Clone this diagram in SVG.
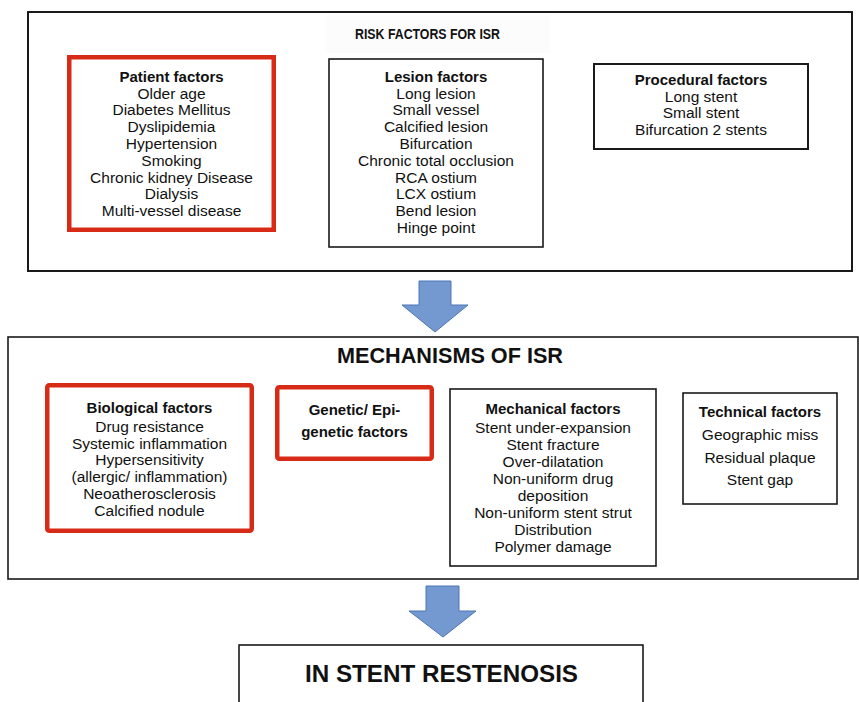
<svg xmlns="http://www.w3.org/2000/svg" width="859" height="702" viewBox="0 0 859 702">
  <style>
    text { font-family: "Liberation Sans", Arial, sans-serif; fill: #111; text-anchor: middle; }
    .b { font-weight: bold; font-size: 15px; }
    .r { font-size: 15.5px; }
    .t1 { font-size: 14px; }
    .t2 { font-size: 22px; }
    .t3 { font-size: 24px; }
    .box { fill: #fff; stroke: #1a1a1a; stroke-width: 1.6; }
    .outer { fill: #fff; stroke: #1a1a1a; stroke-width: 2; }
    .red { fill: #fff; stroke: #d72b17; stroke-width: 4.5; }
    .arrow { fill: #7399d0; stroke: #4d76b4; stroke-width: 1; stroke-linejoin: miter; }
  </style>
  <rect width="859" height="702" fill="#fff"/>

  <g id="risk-factors">
    <rect class="outer" x="28" y="12" width="824" height="259"/>
    <rect x="326" y="15" width="224" height="38" fill="#fcfcfc"/>
    <text class="b t1" x="427.5" y="39" textLength="145" lengthAdjust="spacingAndGlyphs">RISK FACTORS FOR ISR</text>
  </g>

  <g id="patient-factors">
    <rect class="red" x="69.25" y="57.25" width="204.5" height="172.5"/>
    <text class="b" x="171.5" y="81.7">Patient factors</text>
    <text class="r" x="171.5" y="98.5">Older age</text>
    <text class="r" x="171.5" y="115.3">Diabetes Mellitus</text>
    <text class="r" x="171.5" y="132.1">Dyslipidemia</text>
    <text class="r" x="171.5" y="148.9">Hypertension</text>
    <text class="r" x="171.5" y="165.7">Smoking</text>
    <text class="r" x="171.5" y="182.5">Chronic kidney Disease</text>
    <text class="r" x="171.5" y="199.3">Dialysis</text>
    <text class="r" x="171.5" y="216.1">Multi-vessel disease</text>
  </g>

  <g id="lesion-factors">
    <rect class="box" x="329" y="59" width="214" height="188"/>
    <text class="b" x="436" y="81.7">Lesion factors</text>
    <text class="r" x="436" y="98.5">Long lesion</text>
    <text class="r" x="436" y="115.3">Small vessel</text>
    <text class="r" x="436" y="132.1">Calcified lesion</text>
    <text class="r" x="436" y="148.9">Bifurcation</text>
    <text class="r" x="436" y="165.7">Chronic total occlusion</text>
    <text class="r" x="436" y="182.5">RCA ostium</text>
    <text class="r" x="436" y="199.3">LCX ostium</text>
    <text class="r" x="436" y="216.1">Bend lesion</text>
    <text class="r" x="436" y="232.9">Hinge point</text>
  </g>

  <g id="procedural-factors">
    <rect class="box" x="594" y="64" width="214" height="85" style="stroke-width:2"/>
    <text class="b" x="701" y="85">Procedural factors</text>
    <text class="r" x="701" y="101.7">Long stent</text>
    <text class="r" x="701" y="118.4">Small stent</text>
    <text class="r" x="701" y="135.1">Bifurcation 2 stents</text>
  </g>

  <g id="mechanisms">
    <rect class="outer" x="8" y="337" width="850" height="242" style="stroke-width:1.6"/>
    <text class="b t2" x="450" y="363" textLength="226" lengthAdjust="spacingAndGlyphs">MECHANISMS OF ISR</text>
  </g>

  <g id="biological-factors">
    <rect class="red" x="47.25" y="385.25" width="204.5" height="145.5" rx="2"/>
    <text class="b" x="149.5" y="412.7">Biological factors</text>
    <text class="r" x="149.5" y="431.7">Drug resistance</text>
    <text class="r" x="149.5" y="448.5">Systemic inflammation</text>
    <text class="r" x="149.5" y="465.3">Hypersensitivity</text>
    <text class="r" x="149.5" y="482.1">(allergic/ inflammation)</text>
    <text class="r" x="149.5" y="498.9">Neoatherosclerosis</text>
    <text class="r" x="149.5" y="515.7">Calcified nodule</text>
  </g>

  <g id="genetic-factors">
    <rect class="red" x="277.25" y="387.25" width="154.5" height="71.5" rx="2"/>
    <text class="b" x="354.5" y="415">Genetic/ Epi-</text>
    <text class="b" x="354.5" y="437.3">genetic factors</text>
  </g>

  <g id="mechanical-factors">
    <rect class="box" x="450" y="389" width="206" height="177"/>
    <text class="b" x="553" y="414">Mechanical factors</text>
    <text class="r" x="553" y="432.7">Stent under-expansion</text>
    <text class="r" x="553" y="449.7">Stent fracture</text>
    <text class="r" x="553" y="466.7">Over-dilatation</text>
    <text class="r" x="553" y="483.7">Non-uniform drug</text>
    <text class="r" x="553" y="500.7">deposition</text>
    <text class="r" x="553" y="517.7">Non-uniform stent strut</text>
    <text class="r" x="553" y="534.7">Distribution</text>
    <text class="r" x="553" y="551.7">Polymer damage</text>
  </g>

  <g id="technical-factors">
    <rect class="box" x="683" y="393" width="154" height="111"/>
    <text class="b" x="760" y="417.3">Technical factors</text>
    <text class="r" x="760" y="440">Geographic miss</text>
    <text class="r" x="760" y="462.7">Residual plaque</text>
    <text class="r" x="760" y="485.4">Stent gap</text>
  </g>

  <g id="in-stent-restenosis">
    <rect class="box" x="239" y="645" width="404" height="70"/>
    <text class="b t3" x="441.5" y="682" textLength="273" lengthAdjust="spacingAndGlyphs">IN STENT RESTENOSIS</text>
  </g>

  <g id="connectors">
    <polygon class="arrow" points="419,281 451,281 451,305 468,305 435,332 402,305 419,305"/>
    <polygon class="arrow" points="426,586 459,586 459,611 476,611 443,637 409,611 426,611"/>
  </g>
</svg>
